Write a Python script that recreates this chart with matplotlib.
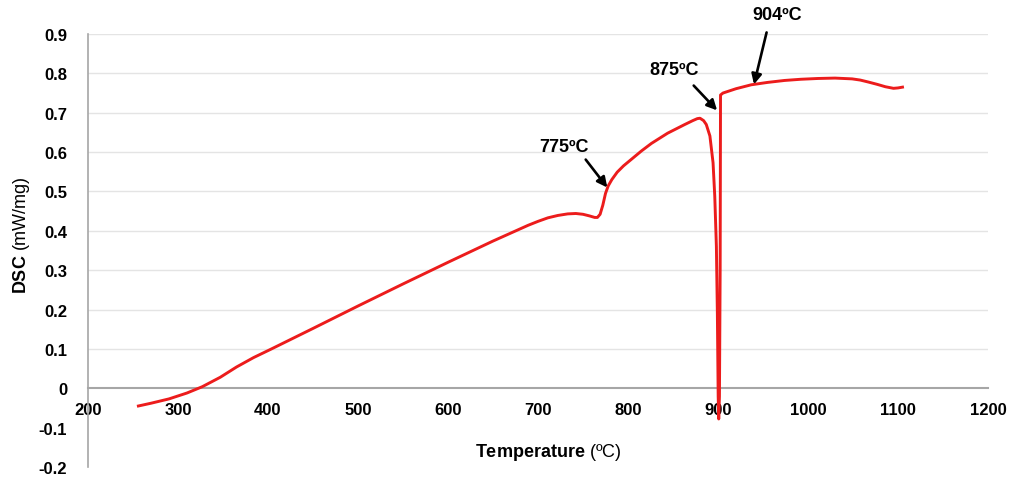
import numpy as np
import matplotlib
matplotlib.use("Agg")
import matplotlib.pyplot as plt

plt.rcParams['font.family'] = ['Liberation Sans', 'DejaVu Sans']
plt.rcParams['mathtext.fontset'] = 'custom'
plt.rcParams['mathtext.rm'] = 'Liberation Sans'
plt.rcParams['mathtext.bf'] = 'Liberation Sans:bold'

# DSC heating curve (temperature in ºC, signal in mW/mg)
temperature = [256, 270, 290, 310, 327, 347, 365, 384, 403, 450, 500, 550, 600,
               650, 689, 700, 711, 722, 733, 742, 750, 757, 763, 766, 769, 772,
               775, 778, 782, 788, 795, 805, 815, 826, 844, 863, 872, 877, 880,
               884, 887, 891, 894.5, 896.4, 898.2, 899.3, 900.2, 900.8, 901.6,
               902.4, 902.8, 905.5, 920, 937, 955, 974, 992, 1011, 1030, 1049,
               1058, 1067, 1077, 1086, 1095, 1100, 1105]
dsc = [-0.045, -0.038, -0.027, -0.012, 0.004, 0.028, 0.054, 0.078, 0.099,
       0.152, 0.209, 0.265, 0.32, 0.374, 0.414, 0.424, 0.433, 0.439, 0.443,
       0.444, 0.442, 0.438, 0.434, 0.434, 0.442, 0.465, 0.495, 0.514, 0.53,
       0.549, 0.565, 0.584, 0.603, 0.622, 0.648, 0.67, 0.68, 0.685, 0.686,
       0.68, 0.67, 0.641, 0.573, 0.488, 0.361, 0.19, -0.02, -0.078, -0.02,
       0.3, 0.745, 0.75, 0.761, 0.771, 0.777, 0.782, 0.785, 0.787, 0.788,
       0.786, 0.783, 0.778, 0.772, 0.766, 0.762, 0.763, 0.765]

# transition labels: text position, arrow tail, arrow tip
events = ["775ºC", "875ºC", "904ºC"]
text_xy = [(729, 0.614), (851, 0.81), (966, 0.949)]
tail_xy = [(753, 0.581), (873, 0.769), (954, 0.904)]
tip_xy = [(777, 0.51), (899, 0.706), (940, 0.772)]

x_ticks = [200, 300, 400, 500, 600, 700, 800, 900, 1000, 1100, 1200]
y_ticks = [-0.2, -0.1, 0, 0.1, 0.2, 0.3, 0.4, 0.5, 0.6, 0.7, 0.8, 0.9]

fig = plt.figure(figsize=(10.14, 4.81), dpi=100)
ax = fig.add_axes([88 / 1014, 1 - 468 / 481, 900 / 1014, 433 / 481])

for y in y_ticks:
    if y > 0:
        ax.axhline(y, color='#e4e4e4', lw=1.0, zorder=0)

ax.plot(temperature, dsc, color='#ec1c1c', lw=2.1, zorder=3,
        solid_joinstyle='round')

for label, txt, tail, tip in zip(events, text_xy, tail_xy, tip_xy):
    ax.text(txt[0], txt[1], label, ha='center', va='center', fontsize=13,
            fontweight='bold', clip_on=False)
    ax.annotate('', xy=tip, xytext=tail, annotation_clip=False,
                arrowprops=dict(arrowstyle='-|>', color='black', lw=1.9,
                                mutation_scale=15, shrinkA=0, shrinkB=0))

ax.set_xlim(200, 1200)
ax.set_ylim(-0.2, 0.9)
ax.set_xticks(x_ticks)
ax.set_yticks(y_ticks)
ax.set_yticklabels(['0' if v == 0 else f"{v:g}" for v in y_ticks])

for side in ['top', 'right']:
    ax.spines[side].set_visible(False)
ax.spines['bottom'].set_position(('data', 0))
ax.spines['bottom'].set_color('#a6a6a6')
ax.spines['bottom'].set_linewidth(1.5)
ax.spines['left'].set_color('#a6a6a6')
ax.spines['left'].set_linewidth(1.2)

ax.tick_params(axis='x', length=0, pad=10, labelsize=12)
ax.tick_params(axis='y', length=0, pad=15, labelsize=12)
for lbl in ax.get_xticklabels() + ax.get_yticklabels():
    lbl.set_fontweight('bold')

fig.text(548 / 1014, 1 - 453 / 481, r"$\mathbf{Temperature}$ (ºC)",
         ha='center', va='center', fontsize=13)
fig.text(22 / 1014, 1 - 235 / 481, r"$\mathbf{DSC}$ (mW/mg)", rotation=90,
         ha='center', va='center', fontsize=13)

fig.savefig("out.png", dpi=100)
